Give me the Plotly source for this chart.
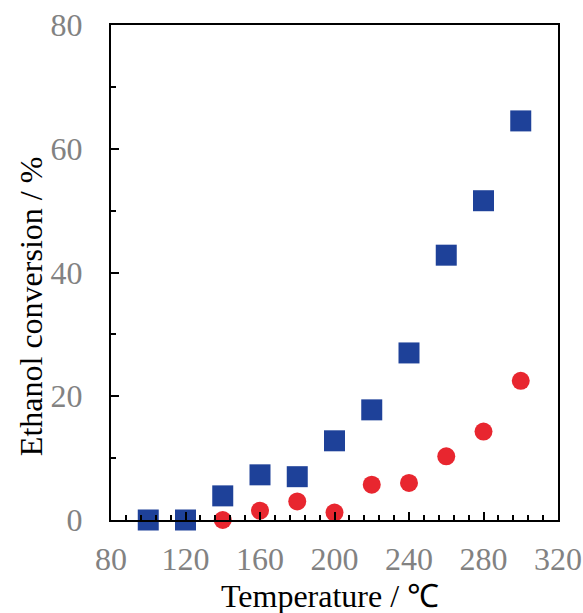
import plotly.graph_objects as go

temps_blue = [100, 120, 140, 160, 180, 200, 220, 240, 260, 280, 300]
conv_blue = [0.0, 0.0, 3.9, 7.3, 7.0, 12.8, 17.8, 27.0, 42.8, 51.6, 64.5]

temps_red = [140, 160, 180, 200, 220, 240, 260, 280, 300]
conv_red = [0.0, 1.5, 3.0, 1.2, 5.7, 6.0, 10.3, 14.3, 22.5]

x_ticks = [80, 120, 160, 200, 240, 280, 320]
y_ticks = [0, 20, 40, 60, 80]

FONT = "Liberation Serif"
TICK_COLOR = "#828282"

fig = go.Figure()
fig.add_trace(go.Scatter(x=temps_blue, y=conv_blue, mode="markers",
                         marker=dict(symbol="square", size=21, color="#1E4199"),
                         cliponaxis=False, showlegend=False))
fig.add_trace(go.Scatter(x=temps_red, y=conv_red, mode="markers",
                         marker=dict(symbol="circle", size=18, color="#E8262F"),
                         cliponaxis=False, showlegend=False))

fig.update_layout(
    width=583, height=613,
    margin=dict(l=111, r=25, t=25, b=93, autoexpand=False),
    plot_bgcolor="white", paper_bgcolor="white",
    font=dict(family=FONT, size=32, color=TICK_COLOR),
)
fig.update_xaxes(range=[80, 320], tickvals=x_ticks, ticks="inside", ticklen=8,
                 tickwidth=2, tickcolor="black", automargin=False,
                 showline=True, linecolor="black", linewidth=2, mirror=True,
                 showgrid=False, zeroline=False, ticklabelstandoff=10,
                 tickfont=dict(family=FONT, size=32, color=TICK_COLOR),
                 minor=dict(dtick=8, tick0=80, ticks="inside", ticklen=5,
                            tickwidth=2, tickcolor="black", showgrid=False))
fig.update_yaxes(range=[0, 80], tickvals=y_ticks, ticks="inside", ticklen=8,
                 tickwidth=2, tickcolor="black", automargin=False,
                 showline=True, linecolor="black", linewidth=2, mirror=True,
                 showgrid=False, zeroline=False, ticklabelstandoff=20,
                 tickfont=dict(family=FONT, size=32, color=TICK_COLOR),
                 minor=dict(dtick=10, ticks="inside", ticklen=5,
                            tickwidth=2, tickcolor="black", showgrid=False))

fig.add_annotation(text="Temperature / ℃", xref="paper", yref="paper",
                   x=0.49, y=0, yshift=-96, xanchor="center", yanchor="bottom",
                   showarrow=False, font=dict(family=FONT, size=32, color="black"))
fig.add_annotation(text="Ethanol conversion / %", xref="paper", yref="paper",
                   x=0, xshift=-80, y=0.43, xanchor="center", yanchor="middle",
                   textangle=-90, showarrow=False,
                   font=dict(family=FONT, size=32, color="black"))

fig.write_html("out.html")
